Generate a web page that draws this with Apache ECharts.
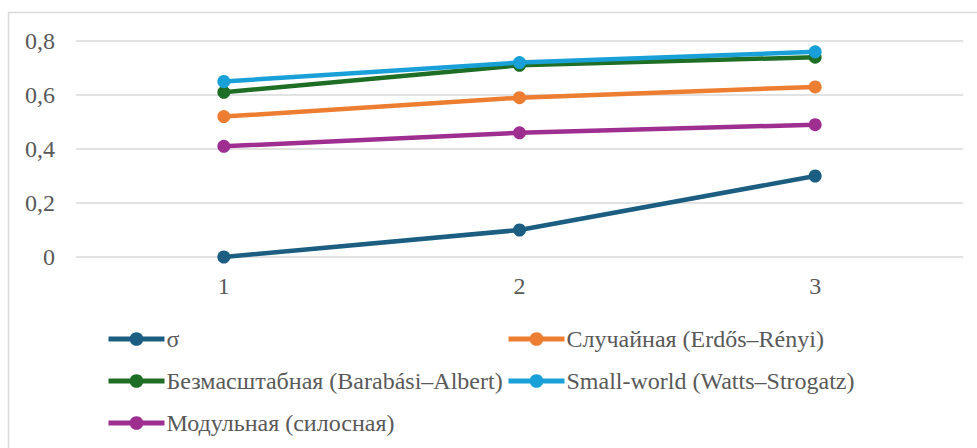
<!DOCTYPE html>
<html>
<head>
<meta charset="utf-8">
<script src="https://cdn.jsdelivr.net/npm/echarts@6/dist/echarts.min.js"></script>
<style>
  html, body { margin: 0; padding: 0; background: #fff; }
  #chart { width: 977px; height: 448px; }
  /* Serif face for every chart label drawn by the SVG renderer */
  #chart svg text { font-family: "Liberation Serif", "Times New Roman", serif !important; }
</style>
</head>
<body>
<div id="chart"></div>
<script>
// Categories along the x axis
const categories = ['1', '2', '3'];

// Series names and values
const seriesNames = [
  'σ',
  'Случайная (Erdős–Rényi)',
  'Безмасштабная (Barabási–Albert)',
  'Small-world (Watts–Strogatz)',
  'Модульная (силосная)'
];
const sigma = [0, 0.1, 0.3];
const randomNet = [0.52, 0.59, 0.63];
const scaleFree = [0.61, 0.71, 0.74];
const smallWorld = [0.65, 0.72, 0.76];
const modular = [0.41, 0.46, 0.49];

(function () {
  const palette = ['#1b5e82', '#ed7d31', '#1f6e26', '#1aa0d8', '#9f2e91'];
  const seriesValues = [sigma, randomNet, scaleFree, smallWorld, modular];
  const labelFamily = 'Liberation Serif';
  const labelColor = '#595959';
  const labelSize = 24;

  // Draw order: keep the light-blue series on top of the green one
  const drawOrder = [0, 1, 4, 2, 3];

  const lineSeries = drawOrder.map(i => ({
    name: seriesNames[i],
    type: 'line',
    data: seriesValues[i],
    symbol: 'circle',
    symbolSize: 13,
    showSymbol: true,
    color: palette[i],
    lineStyle: { width: 4.5, color: palette[i] },
    itemStyle: { color: palette[i] },
    emphasis: { disabled: true },
    animation: false
  }));

  // Legend slots (two columns, three rows)
  const legendSlots = [
    { left: 106, top: 327 },
    { left: 506, top: 327 },
    { left: 106, top: 369 },
    { left: 506, top: 369 },
    { left: 106, top: 411 }
  ];

  const legendList = seriesNames.map((n, i) => ({
    data: [n],
    left: legendSlots[i].left,
    top: legendSlots[i].top,
    orient: 'horizontal',
    itemWidth: 56,
    itemHeight: 17,
    padding: 0,
    selectedMode: false,
    lineStyle: { width: 5 },
    textStyle: { fontFamily: labelFamily, fontSize: labelSize, color: labelColor, padding: [0, 0, 0, -3] }
  }));

  const chart = echarts.init(document.getElementById('chart'), null, { renderer: 'svg' });
  chart.setOption({
    animation: false,
    backgroundColor: '#ffffff',
    textStyle: { fontFamily: labelFamily },
    graphic: [{
      type: 'rect',
      shape: { x: 8.5, y: 12.5, width: 975, height: 445 },
      style: { fill: 'none', stroke: '#d9d9d9', lineWidth: 1.5 },
      silent: true,
      z: -1
    }],
    grid: { left: 76, right: 14, top: 41, bottom: 191, containLabel: false },
    xAxis: {
      type: 'category',
      data: categories,
      boundaryGap: true,
      axisLine: { show: false },
      axisTick: { show: false },
      axisLabel: { fontFamily: labelFamily, fontSize: labelSize, color: labelColor, margin: 17 }
    },
    yAxis: {
      type: 'value',
      min: 0,
      max: 0.8,
      interval: 0.2,
      axisLine: { show: false },
      axisTick: { show: false },
      splitLine: { lineStyle: { color: '#d9d9d9', width: 1.5 } },
      axisLabel: {
        fontFamily: labelFamily, fontSize: labelSize, color: labelColor, margin: 21,
        formatter: v => (Math.round(v * 10) / 10).toString().replace('.', ',')
      }
    },
    legend: legendList,
    series: lineSeries
  });
})();
</script>
</body>
</html>
